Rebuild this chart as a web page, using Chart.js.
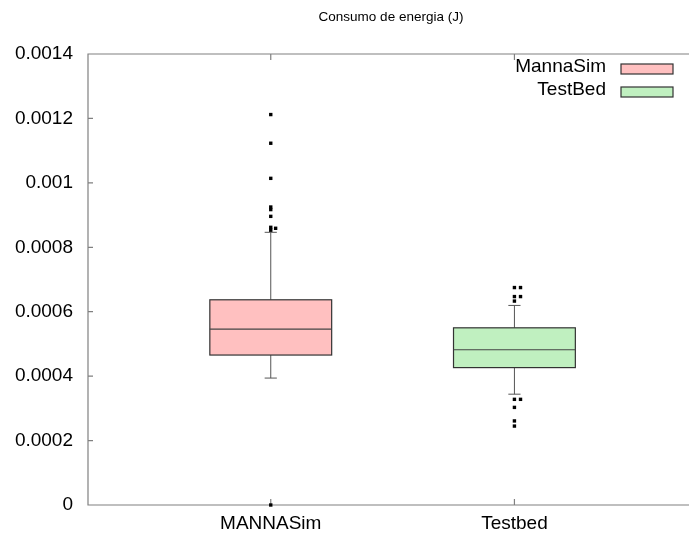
<!DOCTYPE html>
<html>
<head>
<meta charset="utf-8">
<script src="https://cdn.jsdelivr.net/npm/chart.js@4"></script>
<style>
  html, body { margin: 0; padding: 0; background: #fff; }
  #grafica { display: block; }
</style>
</head>
<body>
<canvas id="grafica" width="689" height="538"></canvas>
<script>
// --- DATOS ---
const titulo = 'Consumo de energia (J)';
const categorias = ['MANNASim', 'Testbed'];
const series = ['MannaSim', 'TestBed'];
const colores = ['#ffc0c0', '#c0f0c0'];
const posiciones = [1, 2];

const bigoteInf = [0.000394, 0.000344];
const cuartil1 = [0.0004655, 0.0004265];
const mediana = [0.000546, 0.000482];
const cuartil3 = [0.000637, 0.00055];
const bigoteSup = [0.0008465, 0.0006195];

// valores atípicos (los repetidos llevan un pequeño desplazamiento)
const atipicosManna = [0.001212, 0.001123, 0.001014, 0.000925, 0.000917, 0.000896, 0.000862, 0.000853, 0.000859, 0];
const desplManna = [0, 0, 0, 0, 0, 0, 0, 0, 0.02, 0];
const atipicosTest = [0.000675, 0.000675, 0.000647, 0.000647, 0.000633, 0.000328, 0.000328, 0.000303, 0.000261, 0.000245];
const desplTest = [0, 0.025, 0, 0.025, 0, 0, 0.025, 0, 0, 0];

const ticksY = [0, 0.0002, 0.0004, 0.0006, 0.0008, 0.001, 0.0012, 0.0014];

const anchoCaja = 0.5;
const anchoBigote = 0.05;
const fuente = "'Liberation Sans', Arial, sans-serif";

// --- PLUGIN: bordes, cajas, bigotes, leyenda ---
const cajasPlugin = {
  id: 'cajas',
  beforeDatasetsDraw(chart) {
    const { ctx, chartArea: a, scales: { x, y } } = chart;
    const borde = chart.width;
    ctx.save();
    // borde del gráfico (el derecho queda fuera del lienzo)
    ctx.strokeStyle = '#808080'; ctx.lineWidth = 1.2;
    ctx.beginPath();
    ctx.moveTo(borde, a.top); ctx.lineTo(a.left, a.top); ctx.lineTo(a.left, a.bottom); ctx.lineTo(borde, a.bottom);
    // marcas hacia dentro
    ticksY.forEach(v => { const py = y.getPixelForValue(v); ctx.moveTo(a.left, py); ctx.lineTo(a.left + 5, py); });
    posiciones.forEach(p => {
      const px = x.getPixelForValue(p);
      ctx.moveTo(px, a.top); ctx.lineTo(px, a.top + 6);
      ctx.moveTo(px, a.bottom); ctx.lineTo(px, a.bottom - 6);
    });
    ctx.stroke();

    posiciones.forEach((p, i) => {
      const xl = x.getPixelForValue(p - anchoCaja / 2), xr = x.getPixelForValue(p + anchoCaja / 2);
      const xc = x.getPixelForValue(p);
      const bl = x.getPixelForValue(p - anchoBigote / 2), br = x.getPixelForValue(p + anchoBigote / 2);
      // bigotes
      ctx.strokeStyle = '#555'; ctx.lineWidth = 1;
      ctx.beginPath();
      ctx.moveTo(xc, y.getPixelForValue(cuartil3[i])); ctx.lineTo(xc, y.getPixelForValue(bigoteSup[i]));
      ctx.moveTo(xc, y.getPixelForValue(cuartil1[i])); ctx.lineTo(xc, y.getPixelForValue(bigoteInf[i]));
      ctx.moveTo(bl, y.getPixelForValue(bigoteSup[i])); ctx.lineTo(br, y.getPixelForValue(bigoteSup[i]));
      ctx.moveTo(bl, y.getPixelForValue(bigoteInf[i])); ctx.lineTo(br, y.getPixelForValue(bigoteInf[i]));
      ctx.stroke();
      // caja
      const yt = y.getPixelForValue(cuartil3[i]), yb = y.getPixelForValue(cuartil1[i]);
      ctx.fillStyle = colores[i];
      ctx.fillRect(xl, yt, xr - xl, yb - yt);
      ctx.strokeStyle = '#333'; ctx.lineWidth = 1.2;
      ctx.strokeRect(xl, yt, xr - xl, yb - yt);
      // mediana
      ctx.strokeStyle = '#444'; ctx.lineWidth = 1.2;
      ctx.beginPath();
      ctx.moveTo(xl, y.getPixelForValue(mediana[i])); ctx.lineTo(xr, y.getPixelForValue(mediana[i]));
      ctx.stroke();
    });
    ctx.restore();
  },
  afterDatasetsDraw(chart) {
    const { ctx } = chart;
    ctx.save();
    // título
    ctx.fillStyle = '#000';
    ctx.font = '13.5px ' + fuente;
    ctx.textAlign = 'center'; ctx.textBaseline = 'middle';
    ctx.fillText(titulo, 391, 17);
    // leyenda
    ctx.font = '19px ' + fuente;
    ctx.textAlign = 'right';
    series.forEach((s, i) => {
      const yy = 69 + i * 23;
      ctx.fillStyle = '#000';
      ctx.fillText(s, 606, yy - 2);
      ctx.fillStyle = colores[i];
      ctx.fillRect(621, yy - 5, 52, 10);
      ctx.strokeStyle = '#333'; ctx.lineWidth = 1.2;
      ctx.strokeRect(621, yy - 5, 52, 10);
    });
    ctx.restore();
  }
};

const puntos = (valores, despl, p) => valores.map((v, i) => ({ x: p + despl[i], y: v }));

new Chart(document.getElementById('grafica'), {
  type: 'scatter',
  data: {
    datasets: [
      { label: series[0], data: puntos(atipicosManna, desplManna, posiciones[0]) },
      { label: series[1], data: puntos(atipicosTest, desplTest, posiciones[1]) }
    ]
  },
  options: {
    responsive: false,
    animation: false,
    clip: false,
    layout: { padding: { top: 54, left: 0, right: 0, bottom: 0 } },
    elements: { point: { pointStyle: 'rect', radius: 2.4, backgroundColor: '#000', borderColor: '#000', borderWidth: 0 } },
    plugins: { legend: { display: false }, tooltip: { enabled: false }, title: { display: false } },
    scales: {
      x: {
        type: 'linear', min: 0.25, max: 2.70,
        afterBuildTicks: (s) => { s.ticks = posiciones.map(p => ({ value: p })); },
        afterFit: (s) => { s.height = 33; },
        grid: { display: false, drawTicks: false },
        border: { display: false },
        ticks: { color: '#000', font: { family: fuente, size: 19 }, padding: 7, maxRotation: 0, autoSkip: false,
          callback: (v) => categorias[posiciones.indexOf(v)] }
      },
      y: {
        min: 0, max: 0.0014,
        afterBuildTicks: (s) => { s.ticks = ticksY.map(v => ({ value: v })); },
        afterFit: (s) => { s.width = 88; },
        grid: { display: false, drawTicks: false },
        border: { display: false },
        ticks: { color: '#000', font: { family: fuente, size: 19 }, padding: 15,
          callback: (v) => String(Number(v.toFixed(4))) }
      }
    }
  },
  plugins: [cajasPlugin]
});
</script>
</body>
</html>
